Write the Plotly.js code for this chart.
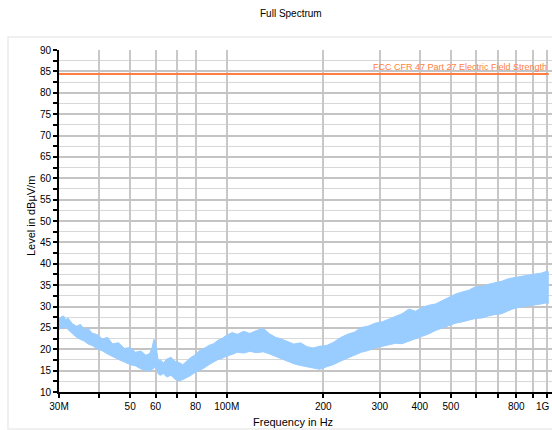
<!DOCTYPE html>
<html>
<head>
<meta charset="utf-8">
<script src="https://cdn.plot.ly/plotly-3.0.1.min.js"></script>
<style>html,body{margin:0;padding:0;background:#fff;}#chart{width:552px;height:430px;}</style>
</head>
<body>
<div id="chart"></div>
<script>
// Frequencies in MHz
const freqMHz = [30, 30.5, 31, 31.5, 32, 33, 34, 35, 36, 37, 38, 39.5, 41, 42.5, 44, 46, 48, 50, 52, 54, 56, 57.5, 58.5, 59.3, 60, 60.6, 61.2, 62, 63.5, 65, 67, 69, 71, 73, 75, 77, 79, 82, 85, 88, 91, 94, 97, 100, 104, 108, 113, 118, 124, 130, 136, 142, 148, 155, 162, 170, 178, 186, 195, 205, 215, 226, 238, 250, 263, 276, 290, 305, 320, 336, 352, 370, 388, 407, 427, 448, 470, 493, 517, 542, 568, 596, 625, 655, 687, 720, 755, 792, 830, 870, 912, 956, 1000, 1010];
// Upper envelope of measured level (dBµV/m)
const levelMax = [27.0, 27.6, 27.8, 26.9, 27.3, 26.0, 25.4, 25.8, 24.6, 24.9, 23.8, 23.4, 22.4, 22.8, 21.3, 21.5, 20.2, 20.4, 19.3, 19.6, 18.6, 19.0, 20.3, 22.3, 21.5, 19.0, 17.2, 17.6, 16.8, 17.7, 18.1, 17.2, 16.9, 16.4, 17.3, 18.0, 18.5, 19.6, 20.2, 20.9, 21.3, 22.1, 22.6, 23.3, 23.9, 23.5, 24.2, 23.7, 24.4, 24.9, 23.6, 22.8, 22.4, 21.8, 21.2, 21.5, 20.6, 20.3, 20.7, 20.9, 21.6, 22.7, 23.5, 24.0, 25.1, 25.4, 26.1, 26.4, 27.1, 27.7, 28.3, 29.4, 28.9, 29.8, 30.3, 30.6, 31.4, 32.3, 32.9, 33.4, 33.8, 34.6, 34.7, 35.2, 35.5, 35.9, 36.5, 36.8, 37.1, 37.3, 37.6, 37.8, 38.3, 38.0];
// Lower envelope of measured level (dBµV/m)
const levelMin = [24.5, 25.2, 24.8, 25.5, 24.6, 23.6, 22.8, 22.3, 21.9, 21.2, 20.9, 20.1, 19.6, 18.9, 18.3, 17.6, 17.0, 16.4, 16.1, 15.4, 15.1, 14.8, 15.3, 15.5, 16.0, 15.2, 14.2, 13.9, 14.3, 13.5, 13.9, 13.0, 12.6, 12.9, 13.3, 13.8, 14.4, 15.0, 15.6, 16.4, 17.1, 17.6, 17.9, 18.4, 18.8, 19.3, 19.1, 19.5, 19.2, 19.4, 18.9, 18.3, 17.8, 17.2, 16.6, 16.2, 15.9, 15.5, 15.3, 15.9, 16.4, 17.2, 18.0, 18.6, 19.3, 19.7, 20.3, 20.7, 21.0, 21.4, 21.3, 21.9, 22.3, 22.9, 23.6, 24.4, 25.0, 25.5, 26.1, 26.4, 26.8, 27.2, 27.3, 27.8, 28.1, 28.3, 29.0, 29.6, 29.9, 30.1, 30.4, 30.6, 30.9, 30.7];
// Limit line
const limitFreqMHz = [30, 1010];
const limitLevel = [84.4, 84.4];
const limitName = 'FCC CFR 47 Part 27 Electric Field Strength';
// Axis ticks (the last label, 1G, is placed so it stays inside the picture)
const xTickMHz = [30, 40, 50, 60, 70, 80, 100, 200, 300, 400, 500, 600, 700, 800, 900, 1000];
const xTickText = ['30M', '', '50', '60', '', '80', '100M', '200', '300', '400', '500', '', '', '800', '', ''];
const lastTickLabel = '1G';

const toHz = a => a.map(v => v * 1e6);
const font = 'Liberation Sans, Arial, sans-serif';
const blue = '#99ccff';
const orange = '#ff7f40';
// plot area in pixels: left 59, right 552, top 50, bottom 392
const px = x => (x - 59) / 493;
const py = y => (392 - y) / 342;

const traces = [
  {x: toHz(freqMHz), y: levelMax, type: 'scatter', mode: 'lines', line: {color: blue, width: 1}, hoverinfo: 'skip', showlegend: false},
  {x: toHz(freqMHz), y: levelMin, type: 'scatter', mode: 'lines', fill: 'tonexty', fillcolor: blue, line: {color: blue, width: 1}, hoverinfo: 'skip', showlegend: false},
  {x: toHz(limitFreqMHz), y: limitLevel, type: 'scatter', mode: 'lines', line: {color: orange, width: 2}, name: limitName, showlegend: false}
];

const layout = {
  width: 552, height: 430,
  margin: {l: 59, r: 0, t: 50, b: 38},
  paper_bgcolor: '#ffffff', plot_bgcolor: '#ffffff',
  font: {family: font, size: 10, color: '#000'},
  showlegend: false,
  xaxis: {
    type: 'log',
    range: [Math.log10(30e6), 9.0143],
    tickvals: toHz(xTickMHz), ticktext: xTickText,
    ticks: 'outside', ticklen: 4, tickwidth: 2, tickcolor: '#000',
    showline: true, linecolor: '#000', linewidth: 1.5,
    showgrid: true, gridcolor: '#c8c8c8', gridwidth: 2,
    zeroline: false,
    tickfont: {family: font, size: 10, color: '#000'}
  },
  yaxis: {
    range: [10, 90], dtick: 5, tick0: 10,
    ticks: 'outside', ticklen: 4, tickwidth: 2, tickcolor: '#000',
    showline: true, linecolor: '#000', linewidth: 2,
    showgrid: true, gridcolor: '#c4c4c4', gridwidth: 2,
    zeroline: false,
    tickfont: {family: font, size: 10, color: '#000'},
    minor: {dtick: 2.5, ticks: 'outside', ticklen: 4, tickwidth: 2, tickcolor: '#000', showgrid: true, gridcolor: '#d8d8d8', gridwidth: 1}
  },
  shapes: [
    {type: 'rect', xref: 'paper', yref: 'paper', x0: px(8), x1: 1.2, y0: py(429), y1: py(37), line: {color: '#ececec', width: 1.5}, layer: 'below'}
  ],
  annotations: [
    {text: 'Full Spectrum', xref: 'paper', yref: 'paper', x: px(291), y: py(14), xanchor: 'center', yanchor: 'middle', showarrow: false, font: {family: font, size: 10, color: '#000'}},
    {text: 'Frequency in Hz', xref: 'paper', yref: 'paper', x: px(293), y: py(422), xanchor: 'center', yanchor: 'middle', showarrow: false, font: {family: font, size: 11, color: '#000'}},
    {text: 'Level in dBµV/m', xref: 'paper', yref: 'paper', x: px(31), y: py(216), xanchor: 'center', yanchor: 'middle', textangle: -90, showarrow: false, font: {family: font, size: 11, color: '#000'}},
    {text: limitName, xref: 'paper', yref: 'y', x: px(371), y: 84.4, xanchor: 'left', yanchor: 'bottom', showarrow: false, font: {family: font, size: 9, color: orange}},
    {text: lastTickLabel, xref: 'paper', yref: 'paper', x: px(551), y: py(406), xanchor: 'right', yanchor: 'middle', showarrow: false, borderpad: 0, font: {family: font, size: 10, color: '#000'}}
  ]
};

Plotly.newPlot('chart', traces, layout, {displayModeBar: false, staticPlot: true});
</script>
</body>
</html>
